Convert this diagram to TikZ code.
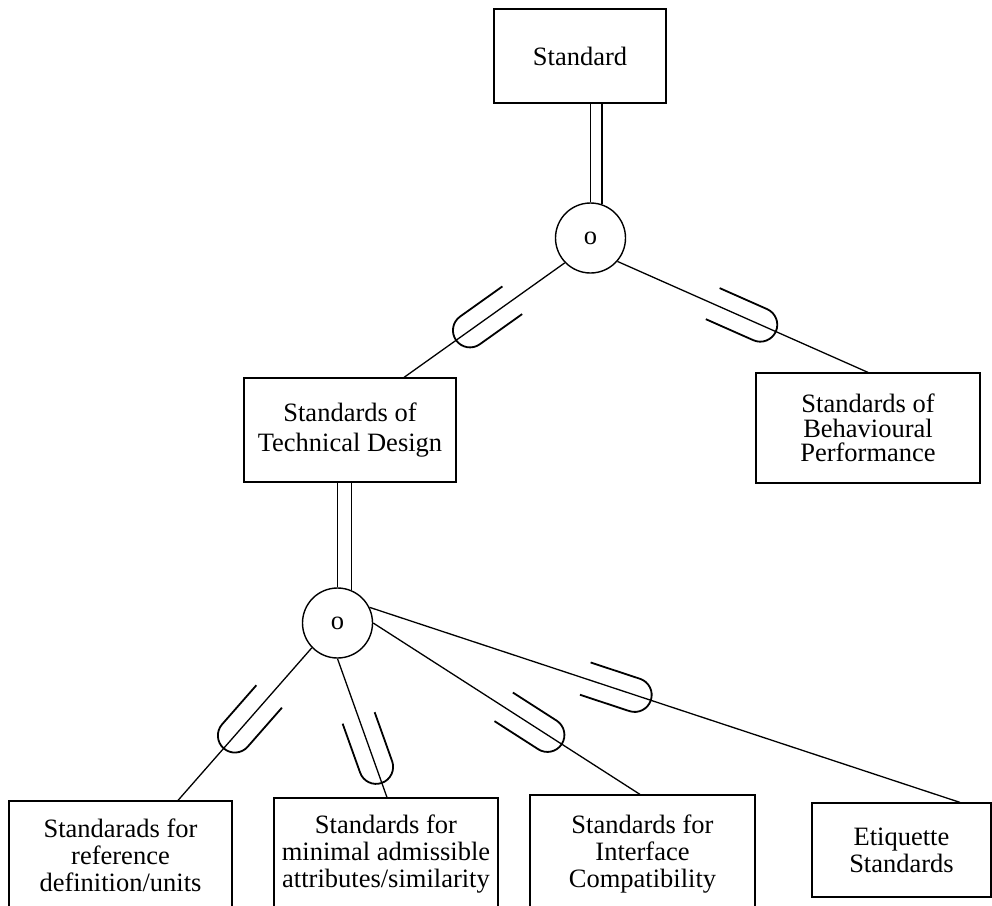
\documentclass[tikz,border=0pt]{standalone}
\usepackage{fontspec}
\setmainfont{Liberation Serif}
\tikzset{
  % subset mark: open end towards the superclass, round end towards the subclass
  subset/.pic={\draw[line width=1.8pt] (-52pt,17pt) -- (0pt,17pt)
      arc[start angle=90,end angle=-90,radius=17pt] -- (-52pt,-17pt);},
  onlink/.style={pos=#1, sloped, allow upside down},
  box/.style={draw, line width=1.2pt, inner sep=0pt, align=center,
      font=\fontsize{26.5}{27}\selectfont},
  spec/.style={draw, circle, line width=1.4pt, inner sep=0pt, minimum size=70pt,
      font=\fontsize{26.5}{27}\selectfont},
  link/.style={line width=1.3pt}
}
\begin{document}
\begin{tikzpicture}[x=1pt,y=-1pt]
\useasboundingbox (0,0) rectangle (992,905);
\clip (0,0) rectangle (992,905);

% entity boxes and specialisation circles
\node[box, minimum width=172pt, minimum height=94pt] (std) at (580,56) {Standard};
\node[spec] (c1) at (590.5,238) {o};
\node[box, minimum width=212pt, minimum height=104pt,
      font=\fontsize{26.5}{30}\selectfont] (tech) at (350,430) {Standards of\\Technical Design};
\node[box, minimum width=224pt, minimum height=110pt,
      font=\fontsize{26.5}{24.5}\selectfont] (behav) at (868,428) {Standards of\\Behavioural\\Performance};
\node[spec] (c2) at (337.5,623) {o};
\node[box, minimum width=223pt, minimum height=108pt] (refdef) at (120.5,855)
      {Standarads for\\reference\\definition/units};
\node[box, minimum width=224pt, minimum height=112pt] (minattr) at (386,854)
      {Standards for\\minimal admissible\\attributes/similarity};
\node[box, minimum width=225pt, minimum height=118pt] (iface) at (642.5,854)
      {Standards for\\Interface\\Compatibility};
\node[box, minimum width=179pt, minimum height=94pt] (etiq) at (901.5,850)
      {Etiquette\\Standards};

% total participation of the superclasses (double lines)
\draw[link] (c1.90) -- (c1.90 |- std.south);
\draw[link] (c1.71) -- (c1.71 |- std.south);
\draw[link] (c2.90) -- (c2.90 |- tech.south);
\draw[link] (c2.67) -- (c2.67 |- tech.south);

% subclass links
\draw[link] (c1.224) -- pic[onlink=0.59]{subset} ([xshift=54pt]tech.north);
\draw[link] (c1.319) -- pic[onlink=0.57]{subset} (behav.north);
\draw[link] (c2.224) -- pic[onlink=0.575]{subset} ([xshift=57.5pt]refdef.north);
\draw[link] (c2.270) -- pic[onlink=0.78]{subset} ([xshift=1pt]minattr.north);
\draw[link] (c2.0) -- pic[onlink=0.653]{subset} ([xshift=-2.5pt]iface.north);
\draw[link] (c2.26) -- pic[onlink=0.449]{subset} ([xshift=58.5pt]etiq.north);
\end{tikzpicture}
\end{document}
